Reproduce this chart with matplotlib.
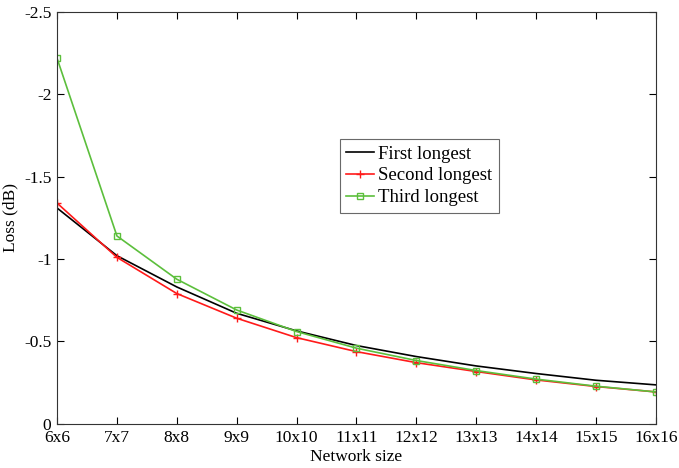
import matplotlib
matplotlib.use('Agg')
import matplotlib.pyplot as plt

# 网络规模与三条最长路径的损耗 (dB)
sizes = ['6x6', '7x7', '8x8', '9x9', '10x10', '11x11', '12x12', '13x13', '14x14', '15x15', '16x16']
first_longest = [-1.31, -1.02, -0.83, -0.67, -0.563, -0.474, -0.407, -0.350, -0.304, -0.263, -0.235]
second_longest = [-1.34, -1.01, -0.79, -0.64, -0.522, -0.437, -0.370, -0.316, -0.265, -0.225, -0.192]
third_longest = [-2.22, -1.14, -0.877, -0.69, -0.559, -0.458, -0.383, -0.322, -0.270, -0.227, -0.192]

plt.rcParams['font.family'] = ['Liberation Serif', 'DejaVu Serif']

fig = plt.figure(figsize=(6.79, 4.68), dpi=100)
ax = fig.add_axes([0.084, 0.095, 0.882, 0.879])

x = list(range(len(sizes)))
ax.plot(x, first_longest, color='black', linewidth=1.2, label='First longest')
ax.plot(x, second_longest, color='#ff1a1a', linewidth=1.2, marker='+', markersize=6,
        markeredgewidth=1.0, label='Second longest')
ax.plot(x, third_longest, color='#5cbf3c', linewidth=1.2, marker='s', markersize=5,
        markerfacecolor='none', markeredgewidth=1.0, label='Third longest')

# y轴反向：0在下，-2.5在上
ax.set_ylim(0, -2.5)
ax.set_xlim(0, len(sizes) - 1)
ax.set_yticks([0, -0.5, -1, -1.5, -2, -2.5])
ax.set_yticklabels(['0', '-0.5', '-1', '-1.5', '-2', '-2.5'])
ax.set_xticks(x)
ax.set_xticklabels(sizes)

ax.tick_params(direction='in', top=True, right=True, labelsize=12.5, length=5, width=0.8, pad=4)
ax.tick_params(axis='x', pad=5)
for s in ax.spines.values():
    s.set_linewidth(0.8)
    s.set_color('#333333')

ax.set_xlabel('Network size', fontsize=12.5, labelpad=2)
ax.set_ylabel('Loss (dB)', fontsize=12.5, labelpad=4)

leg = ax.legend(loc='upper left', bbox_to_anchor=(0.472, 0.692), fontsize=13.5,
                frameon=True, fancybox=False, edgecolor='#444444', handlelength=1.5,
                handletextpad=0.2, borderpad=0.35, labelspacing=0.25, borderaxespad=0)
leg.get_frame().set_linewidth(0.8)

fig.savefig('out.png', dpi=100)
